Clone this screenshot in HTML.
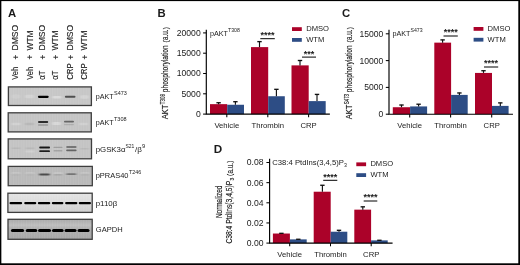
<!DOCTYPE html>
<html><head><meta charset="utf-8"><title>Figure</title>
<style>html,body{margin:0;padding:0;background:#fff;}body{width:520px;height:265px;overflow:hidden;}svg{display:block;will-change:transform;opacity:0.999;font-family:"Liberation Sans",sans-serif;}text{fill:#1a1a1a;}</style></head><body>
<svg width="520" height="265" viewBox="0 0 520 265">
<defs><filter id="b1" x="-20%" y="-100%" width="140%" height="300%"><feGaussianBlur stdDeviation="0.6 0.45"/></filter><filter id="b3" x="-20%" y="-100%" width="140%" height="300%"><feGaussianBlur stdDeviation="0.45 0.4"/></filter><filter id="b2" x="-20%" y="-100%" width="140%" height="300%"><feGaussianBlur stdDeviation="0.9 0.6"/></filter></defs>
<rect x="0" y="0" width="520" height="265" fill="#fff"/>
<text x="8.1" y="16.5" font-size="11.3" font-weight="bold" fill="#000">A</text>
<text x="157.4" y="16.7" font-size="11.3" font-weight="bold" fill="#000">B</text>
<text x="341.9" y="16.8" font-size="11.3" font-weight="bold" fill="#000">C</text>
<text x="213.7" y="152.7" font-size="11.7" font-weight="bold" fill="#000">D</text>
<text transform="translate(18.2,79.8) rotate(-90)" font-size="8.2" stroke="#1a1a1a" stroke-width="0.12"><tspan x="0" textLength="12.9" lengthAdjust="spacingAndGlyphs">Veh</tspan><tspan x="20.2" dy="0.9">+</tspan><tspan x="29.3" dy="-0.9" textLength="25.6" lengthAdjust="spacingAndGlyphs">DMSO</tspan></text>
<text transform="translate(32.5,79.8) rotate(-90)" font-size="8.2" stroke="#1a1a1a" stroke-width="0.12"><tspan x="0" textLength="12.9" lengthAdjust="spacingAndGlyphs">Veh</tspan><tspan x="20.2" dy="0.9">+</tspan><tspan x="29.3" dy="-0.9" textLength="20.1" lengthAdjust="spacingAndGlyphs">WTM</tspan></text>
<text transform="translate(44.9,79.8) rotate(-90)" font-size="8.2" stroke="#1a1a1a" stroke-width="0.12"><tspan x="0" textLength="9.2" lengthAdjust="spacingAndGlyphs">αT</tspan><tspan x="20.2" dy="0.9">+</tspan><tspan x="29.3" dy="-0.9" textLength="25.6" lengthAdjust="spacingAndGlyphs">DMSO</tspan></text>
<text transform="translate(58.4,79.8) rotate(-90)" font-size="8.2" stroke="#1a1a1a" stroke-width="0.12"><tspan x="0" textLength="9.2" lengthAdjust="spacingAndGlyphs">αT</tspan><tspan x="20.2" dy="0.9">+</tspan><tspan x="29.3" dy="-0.9" textLength="20.1" lengthAdjust="spacingAndGlyphs">WTM</tspan></text>
<text transform="translate(72.8,79.8) rotate(-90)" font-size="8.2" stroke="#1a1a1a" stroke-width="0.12"><tspan x="0" textLength="16.6" lengthAdjust="spacingAndGlyphs">CRP</tspan><tspan x="20.2" dy="0.9">+</tspan><tspan x="29.3" dy="-0.9" textLength="25.6" lengthAdjust="spacingAndGlyphs">DMSO</tspan></text>
<text transform="translate(86.7,79.8) rotate(-90)" font-size="8.2" stroke="#1a1a1a" stroke-width="0.12"><tspan x="0" textLength="16.6" lengthAdjust="spacingAndGlyphs">CRP</tspan><tspan x="20.2" dy="0.9">+</tspan><tspan x="29.3" dy="-0.9" textLength="20.1" lengthAdjust="spacingAndGlyphs">WTM</tspan></text>
<defs><linearGradient id="g5" x1="0" y1="0" x2="0" y2="1"><stop offset="0" stop-color="#e4e4e4"/><stop offset="0.45" stop-color="#dcdcdc"/><stop offset="1" stop-color="#cecece"/></linearGradient><linearGradient id="g6" x1="0" y1="0" x2="0" y2="1"><stop offset="0" stop-color="#a9a9a9"/><stop offset="0.3" stop-color="#bdbdbd"/><stop offset="0.45" stop-color="#b0b0b0"/><stop offset="1" stop-color="#a6a6a6"/></linearGradient><linearGradient id="g1" x1="0" y1="0" x2="0" y2="1"><stop offset="0" stop-color="#c4c4c4"/><stop offset="1" stop-color="#c9c9c9"/></linearGradient><pattern id="vs" width="2.6" height="4" patternUnits="userSpaceOnUse"><rect width="1.1" height="4" fill="#fff" opacity="0.07"/></pattern></defs>
<rect x="8.4" y="86.9" width="83.00" height="18.60" fill="#c6c6c6"/>
<rect x="8.4" y="86.9" width="83.00" height="18.60" fill="url(#vs)"/>
<rect x="8.2" y="112.8" width="83.10" height="19.10" fill="#c4c4c4"/>
<rect x="8.2" y="112.8" width="83.10" height="19.10" fill="url(#vs)"/>
<rect x="8.2" y="138.9" width="83.30" height="19.90" fill="#c3c3c3"/>
<rect x="8.2" y="138.9" width="83.30" height="19.90" fill="url(#vs)"/>
<rect x="8.2" y="166.4" width="84.10" height="19.30" fill="#b9b9b9"/>
<rect x="8.2" y="166.4" width="84.10" height="19.30" fill="url(#vs)"/>
<rect x="7.9" y="193.2" width="84.30" height="19.20" fill="url(#g5)"/>
<rect x="7.9" y="193.2" width="84.30" height="19.20" fill="url(#vs)"/>
<rect x="8.0" y="219.3" width="84.20" height="20.00" fill="url(#g6)"/>
<rect x="8.0" y="219.3" width="84.20" height="20.00" fill="url(#vs)"/>
<rect x="37.90" y="95.80" width="10.8" height="2.1" rx="1.05" fill="#000" opacity="1.0" filter="url(#b1)"/>
<rect x="64.90" y="95.85" width="10.6" height="2.0" rx="1.0" fill="#222" opacity="0.72" filter="url(#b1)"/>
<rect x="52.50" y="96.00" width="9" height="2.4" rx="1.2" fill="#fff" opacity="0.35" filter="url(#b2)"/>
<rect x="25.00" y="94.75" width="9" height="3.5" rx="1.75" fill="#fff" opacity="0.22" filter="url(#b2)"/>
<rect x="80.00" y="95.25" width="9" height="3.5" rx="1.75" fill="#fff" opacity="0.22" filter="url(#b2)"/>
<rect x="11.50" y="94.50" width="9" height="4.0" rx="2.0" fill="#fff" opacity="0.12" filter="url(#b2)"/>
<rect x="38.00" y="121.05" width="10.2" height="1.9" rx="0.95" fill="#1a1a1a" opacity="0.9" filter="url(#b1)"/>
<rect x="38.00" y="124.30" width="10.2" height="1.4" rx="0.7" fill="#555" opacity="0.4" filter="url(#b1)"/>
<rect x="64.00" y="120.75" width="10.0" height="1.7" rx="0.85" fill="#333" opacity="0.65" filter="url(#b1)"/>
<rect x="64.00" y="123.90" width="10.0" height="1.4" rx="0.7" fill="#777" opacity="0.3" filter="url(#b1)"/>
<rect x="11.50" y="122.75" width="9" height="2.5" rx="1.25" fill="#fff" opacity="0.22" filter="url(#b2)"/>
<rect x="25.00" y="122.75" width="9" height="2.5" rx="1.25" fill="#999" opacity="0.3" filter="url(#b2)"/>
<rect x="52.00" y="122.00" width="9" height="3.0" rx="1.5" fill="#fff" opacity="0.32" filter="url(#b2)"/>
<rect x="79.00" y="122.75" width="9" height="2.5" rx="1.25" fill="#fff" opacity="0.2" filter="url(#b2)"/>
<rect x="39.20" y="146.60" width="10.8" height="1.8" rx="0.9" fill="#111" opacity="0.95" filter="url(#b1)"/>
<rect x="39.20" y="150.30" width="10.8" height="1.8" rx="0.9" fill="#111" opacity="0.9" filter="url(#b1)"/>
<rect x="66.20" y="146.20" width="10.4" height="1.6" rx="0.8" fill="#333" opacity="0.7" filter="url(#b1)"/>
<rect x="66.20" y="149.60" width="10.4" height="1.6" rx="0.8" fill="#333" opacity="0.65" filter="url(#b1)"/>
<rect x="53.50" y="146.70" width="9" height="1.4" rx="0.7" fill="#666" opacity="0.4" filter="url(#b1)"/>
<rect x="53.50" y="150.10" width="9" height="1.4" rx="0.7" fill="#666" opacity="0.35" filter="url(#b1)"/>
<rect x="11.50" y="147.50" width="9" height="1.6" rx="0.8" fill="#888" opacity="0.2" filter="url(#b2)"/>
<rect x="25.50" y="147.50" width="9" height="1.6" rx="0.8" fill="#888" opacity="0.2" filter="url(#b2)"/>
<rect x="80.00" y="148.00" width="9" height="1.6" rx="0.8" fill="#888" opacity="0.18" filter="url(#b2)"/>
<rect x="25.50" y="150.50" width="9" height="2.0" rx="1.0" fill="#fff" opacity="0.2" filter="url(#b2)"/>
<rect x="11.00" y="172.00" width="10" height="3.2" rx="1.6" fill="#fff" opacity="0.16" filter="url(#b2)"/>
<rect x="25.00" y="172.00" width="10" height="3.2" rx="1.6" fill="#fff" opacity="0.16" filter="url(#b2)"/>
<rect x="53.00" y="172.00" width="10" height="3.2" rx="1.6" fill="#fff" opacity="0.16" filter="url(#b2)"/>
<rect x="80.00" y="172.00" width="10" height="3.2" rx="1.6" fill="#fff" opacity="0.16" filter="url(#b2)"/>
<rect x="39.00" y="173.60" width="10.8" height="2.0" rx="1.0" fill="#222" opacity="0.72" filter="url(#b2)"/>
<rect x="66.30" y="173.30" width="10.0" height="1.8" rx="0.9" fill="#333" opacity="0.5" filter="url(#b2)"/>
<rect x="53.50" y="174.00" width="9" height="1.6" rx="0.8" fill="#555" opacity="0.25" filter="url(#b2)"/>
<rect x="11.50" y="173.80" width="9" height="1.6" rx="0.8" fill="#666" opacity="0.15" filter="url(#b2)"/>
<rect x="25.50" y="173.80" width="9" height="1.6" rx="0.8" fill="#666" opacity="0.15" filter="url(#b2)"/>
<rect x="80.50" y="173.80" width="9" height="1.6" rx="0.8" fill="#666" opacity="0.18" filter="url(#b2)"/>
<rect x="9.50" y="201.90" width="12.699999999999998" height="2.4" rx="1.2" fill="#000" opacity="1.0" filter="url(#b3)"/>
<rect x="24.20" y="201.90" width="12.1" height="2.4" rx="1.2" fill="#000" opacity="1.0" filter="url(#b3)"/>
<rect x="37.80" y="201.90" width="12.499999999999998" height="2.4" rx="1.2" fill="#000" opacity="1.0" filter="url(#b3)"/>
<rect x="51.80" y="201.90" width="11.6" height="2.4" rx="1.2" fill="#000" opacity="1.0" filter="url(#b3)"/>
<rect x="65.10" y="201.90" width="12.299999999999988" height="2.4" rx="1.2" fill="#000" opacity="1.0" filter="url(#b3)"/>
<rect x="78.70" y="201.90" width="12.300000000000002" height="2.4" rx="1.2" fill="#000" opacity="1.0" filter="url(#b3)"/>
<rect x="10.95" y="228.95" width="13.200000000000001" height="3.1" rx="1.55" fill="#000" opacity="1.0" filter="url(#b3)"/>
<rect x="25.75" y="228.95" width="11.500000000000002" height="3.1" rx="1.55" fill="#000" opacity="1.0" filter="url(#b3)"/>
<rect x="38.05" y="228.95" width="12.999999999999998" height="3.1" rx="1.55" fill="#000" opacity="1.0" filter="url(#b3)"/>
<rect x="51.95" y="228.95" width="11.700000000000001" height="3.1" rx="1.55" fill="#000" opacity="1.0" filter="url(#b3)"/>
<rect x="64.55" y="228.95" width="12.000000000000005" height="3.1" rx="1.55" fill="#000" opacity="1.0" filter="url(#b3)"/>
<rect x="77.55" y="228.95" width="12.000000000000005" height="3.1" rx="1.55" fill="#000" opacity="1.0" filter="url(#b3)"/>
<rect x="8.4" y="86.9" width="83.00" height="18.60" fill="none" stroke="#3e3e3e" stroke-width="1.3"/>
<rect x="8.2" y="112.8" width="83.10" height="19.10" fill="none" stroke="#3e3e3e" stroke-width="1.3"/>
<rect x="8.2" y="138.9" width="83.30" height="19.90" fill="none" stroke="#3e3e3e" stroke-width="1.3"/>
<rect x="8.2" y="166.4" width="84.10" height="19.30" fill="none" stroke="#3e3e3e" stroke-width="1.3"/>
<rect x="7.9" y="193.2" width="84.30" height="19.20" fill="none" stroke="#3e3e3e" stroke-width="1.3"/>
<rect x="8.0" y="219.3" width="84.20" height="20.00" fill="none" stroke="#3e3e3e" stroke-width="1.3"/>
<text x="95.8" y="98.6" font-size="7.5" textLength="17.9" lengthAdjust="spacingAndGlyphs">pAKT</text>
<text x="114.0" y="95.1" font-size="5.5" textLength="12.8" lengthAdjust="spacingAndGlyphs">S473</text>
<text x="95.8" y="124.8" font-size="7.5" textLength="17.9" lengthAdjust="spacingAndGlyphs">pAKT</text>
<text x="114.0" y="121.3" font-size="5.5" textLength="12.6" lengthAdjust="spacingAndGlyphs">T308</text>
<text x="95.7" y="151.6" font-size="7.5" textLength="29.8" lengthAdjust="spacingAndGlyphs">pGSK3α</text>
<text x="125.5" y="148.1" font-size="5.5" textLength="8.9" lengthAdjust="spacingAndGlyphs">S21</text>
<text x="134.9" y="151.6" font-size="7.5" textLength="6.9" lengthAdjust="spacingAndGlyphs">/β</text>
<text x="142.0" y="148.1" font-size="5.5" textLength="3.2" lengthAdjust="spacingAndGlyphs">9</text>
<text x="95.7" y="177.7" font-size="7.5" textLength="32.8" lengthAdjust="spacingAndGlyphs">pPRAS40</text>
<text x="129.0" y="174.2" font-size="5.5" textLength="12.2" lengthAdjust="spacingAndGlyphs">T246</text>
<text x="95.7" y="205.5" font-size="7.5" textLength="21.6" lengthAdjust="spacingAndGlyphs">p110β</text>
<text x="95.8" y="232.1" font-size="7.5" textLength="26.8" lengthAdjust="spacingAndGlyphs">GAPDH</text>
<rect x="210" y="104.15" width="17.2" height="9.95" fill="#ab0229"/>
<rect x="227.2" y="104.76" width="16.8" height="9.34" fill="#2d4d85"/>
<rect x="251" y="47.11" width="17.2" height="66.99" fill="#ab0229"/>
<rect x="268.2" y="96.24" width="16.6" height="17.86" fill="#2d4d85"/>
<rect x="291.5" y="65.38" width="17.2" height="48.72" fill="#ab0229"/>
<rect x="308.7" y="101.11" width="17.0" height="12.99" fill="#2d4d85"/>
<path d="M218.6 104.15V102.53" stroke="#111" stroke-width="1.15" fill="none"/><path d="M216.4 102.73H220.79999999999998" stroke="#111" stroke-width="1.35" fill="none"/>
<path d="M235.4 104.76V101.51" stroke="#111" stroke-width="1.15" fill="none"/><path d="M233.20000000000002 101.71H237.6" stroke="#111" stroke-width="1.35" fill="none"/>
<path d="M259.5 47.11V41.43" stroke="#111" stroke-width="1.15" fill="none"/><path d="M257.3 41.63H261.7" stroke="#111" stroke-width="1.35" fill="none"/>
<path d="M276.4 96.24V89.13" stroke="#111" stroke-width="1.15" fill="none"/><path d="M274.2 89.33H278.59999999999997" stroke="#111" stroke-width="1.35" fill="none"/>
<path d="M300.0 65.38V60.30" stroke="#111" stroke-width="1.15" fill="none"/><path d="M297.8 60.50H302.2" stroke="#111" stroke-width="1.35" fill="none"/>
<path d="M317.0 101.11V94.21" stroke="#111" stroke-width="1.15" fill="none"/><path d="M314.8 94.41H319.2" stroke="#111" stroke-width="1.35" fill="none"/>
<path d="M206.3 30.2V114.1H329.3" stroke="#000" stroke-width="1.15" fill="none" stroke-linecap="square"/>
<path d="M203.10000000000002 114.10H206.3" stroke="#000" stroke-width="1.05"/>
<text x="200.70000000000002" y="117.00" font-size="8.2" text-anchor="end" textLength="4.79" lengthAdjust="spacingAndGlyphs">0</text>
<path d="M203.10000000000002 93.80H206.3" stroke="#000" stroke-width="1.05"/>
<text x="200.70000000000002" y="96.70" font-size="8.2" text-anchor="end" textLength="19.15" lengthAdjust="spacingAndGlyphs">5000</text>
<path d="M203.10000000000002 73.50H206.3" stroke="#000" stroke-width="1.05"/>
<text x="200.70000000000002" y="76.40" font-size="8.2" text-anchor="end" textLength="23.94" lengthAdjust="spacingAndGlyphs">10000</text>
<path d="M203.10000000000002 53.20H206.3" stroke="#000" stroke-width="1.05"/>
<text x="200.70000000000002" y="56.10" font-size="8.2" text-anchor="end" textLength="23.94" lengthAdjust="spacingAndGlyphs">15000</text>
<path d="M203.10000000000002 32.90H206.3" stroke="#000" stroke-width="1.05"/>
<text x="200.70000000000002" y="35.80" font-size="8.2" text-anchor="end" textLength="23.94" lengthAdjust="spacingAndGlyphs">20000</text>
<path d="M226.8 114.1V117.3" stroke="#000" stroke-width="1.05"/>
<text x="226.8" y="127.5" font-size="7.7" text-anchor="middle">Vehicle</text>
<path d="M267.8 114.1V117.3" stroke="#000" stroke-width="1.05"/>
<text x="267.8" y="127.5" font-size="7.7" text-anchor="middle">Thrombin</text>
<path d="M308.6 114.1V117.3" stroke="#000" stroke-width="1.05"/>
<text x="308.6" y="127.5" font-size="7.7" text-anchor="middle">CRP</text>
<text x="210.0" y="36.2" font-size="7.2">pAKT<tspan font-size="5.2" dy="-3.8">T308</tspan></text>
<rect x="292.0" y="27.2" width="9.8" height="3.8" fill="#ab0229"/>
<text x="306.2" y="31.2" font-size="7.6">DMSO</text>
<rect x="292.0" y="38.0" width="9.8" height="3.8" fill="#2d4d85"/>
<text x="306.2" y="41.9" font-size="7.6">WTM</text>
<path d="M260.3 38.7H274.8" stroke="#000" stroke-width="1"/>
<text x="267.55" y="38.0" font-size="9" font-weight="bold" text-anchor="middle" fill="#000">****</text>
<path d="M302.0 57.1H316.0" stroke="#000" stroke-width="1"/>
<text x="309.0" y="56.9" font-size="9" font-weight="bold" text-anchor="middle" fill="#000">***</text>
<text transform="translate(168.2,119.3) rotate(-90) scale(0.7927,1)" font-size="9.6" stroke="#1a1a1a" stroke-width="0.15">AKT</text><text transform="translate(164.89999999999998,104.2) rotate(-90) scale(0.6047,1)" font-size="7.4" stroke="#1a1a1a" stroke-width="0.15">T308</text><text transform="translate(168.2,92.19999999999999) rotate(-90) scale(0.7236,1)" font-size="9.2" stroke="#1a1a1a" stroke-width="0.15">phosphorylation</text><text transform="translate(167.79999999999998,42.5) rotate(-90) scale(0.8470,1)" font-size="7.8" stroke="#1a1a1a" stroke-width="0.15">(</text><text transform="translate(168.2,40.099999999999994) rotate(-90) scale(0.6908,1)" font-size="9.2" stroke="#1a1a1a" stroke-width="0.15">a.u.</text><text transform="translate(167.79999999999998,29.299999999999997) rotate(-90) scale(0.8470,1)" font-size="7.8" stroke="#1a1a1a" stroke-width="0.15">)</text>
<rect x="392.8" y="107.23" width="17.3" height="6.97" fill="#ab0229"/>
<rect x="410.1" y="106.43" width="17.0" height="7.77" fill="#2d4d85"/>
<rect x="434.3" y="42.64" width="16.8" height="71.56" fill="#ab0229"/>
<rect x="451.1" y="94.90" width="16.6" height="19.30" fill="#2d4d85"/>
<rect x="475.0" y="72.93" width="17.0" height="41.27" fill="#ab0229"/>
<rect x="492.0" y="105.89" width="16.6" height="8.31" fill="#2d4d85"/>
<path d="M401.5 107.23V104.82" stroke="#111" stroke-width="1.15" fill="none"/><path d="M399.3 105.02H403.7" stroke="#111" stroke-width="1.35" fill="none"/>
<path d="M418.6 106.43V104.02" stroke="#111" stroke-width="1.15" fill="none"/><path d="M416.40000000000003 104.22H420.8" stroke="#111" stroke-width="1.35" fill="none"/>
<path d="M442.6 42.64V39.70" stroke="#111" stroke-width="1.15" fill="none"/><path d="M440.40000000000003 39.90H444.8" stroke="#111" stroke-width="1.35" fill="none"/>
<path d="M459.4 94.90V92.76" stroke="#111" stroke-width="1.15" fill="none"/><path d="M457.2 92.96H461.59999999999997" stroke="#111" stroke-width="1.35" fill="none"/>
<path d="M483.5 72.93V70.52" stroke="#111" stroke-width="1.15" fill="none"/><path d="M481.3 70.72H485.7" stroke="#111" stroke-width="1.35" fill="none"/>
<path d="M500.3 105.89V102.68" stroke="#111" stroke-width="1.15" fill="none"/><path d="M498.1 102.88H502.5" stroke="#111" stroke-width="1.35" fill="none"/>
<path d="M389.0 30.2V114.2H512.4" stroke="#000" stroke-width="1.15" fill="none" stroke-linecap="square"/>
<path d="M385.8 114.20H389.0" stroke="#000" stroke-width="1.05"/>
<text x="383.4" y="117.10" font-size="8.2" text-anchor="end" textLength="4.79" lengthAdjust="spacingAndGlyphs">0</text>
<path d="M385.8 87.40H389.0" stroke="#000" stroke-width="1.05"/>
<text x="383.4" y="90.30" font-size="8.2" text-anchor="end" textLength="19.15" lengthAdjust="spacingAndGlyphs">5000</text>
<path d="M385.8 60.60H389.0" stroke="#000" stroke-width="1.05"/>
<text x="383.4" y="63.50" font-size="8.2" text-anchor="end" textLength="23.94" lengthAdjust="spacingAndGlyphs">10000</text>
<path d="M385.8 33.80H389.0" stroke="#000" stroke-width="1.05"/>
<text x="383.4" y="36.70" font-size="8.2" text-anchor="end" textLength="23.94" lengthAdjust="spacingAndGlyphs">15000</text>
<path d="M409.7 114.2V117.4" stroke="#000" stroke-width="1.05"/>
<text x="409.7" y="127.5" font-size="7.7" text-anchor="middle">Vehicle</text>
<path d="M450.6 114.2V117.4" stroke="#000" stroke-width="1.05"/>
<text x="450.6" y="127.5" font-size="7.7" text-anchor="middle">Thrombin</text>
<path d="M491.7 114.2V117.4" stroke="#000" stroke-width="1.05"/>
<text x="491.7" y="127.5" font-size="7.7" text-anchor="middle">CRP</text>
<text x="392.5" y="36.2" font-size="7.2">pAKT<tspan font-size="5.2" dy="-4.0">S473</tspan></text>
<rect x="473.6" y="27.0" width="9.8" height="3.8" fill="#ab0229"/>
<text x="487.6" y="31.0" font-size="7.6">DMSO</text>
<rect x="473.6" y="37.8" width="9.8" height="3.8" fill="#2d4d85"/>
<text x="487.6" y="41.7" font-size="7.6">WTM</text>
<path d="M443.5 36.0H457.8" stroke="#000" stroke-width="1"/>
<text x="450.65" y="35.1" font-size="9" font-weight="bold" text-anchor="middle" fill="#000">****</text>
<path d="M484.0 67.0H498.2" stroke="#000" stroke-width="1"/>
<text x="491.1" y="66.2" font-size="9" font-weight="bold" text-anchor="middle" fill="#000">****</text>
<text transform="translate(352.3,119.3) rotate(-90) scale(0.7927,1)" font-size="9.6" stroke="#1a1a1a" stroke-width="0.15">AKT</text><text transform="translate(349.0,104.2) rotate(-90) scale(0.5902,1)" font-size="7.4" stroke="#1a1a1a" stroke-width="0.15">S473</text><text transform="translate(352.3,92.19999999999999) rotate(-90) scale(0.7236,1)" font-size="9.2" stroke="#1a1a1a" stroke-width="0.15">phosphorylation</text><text transform="translate(351.90000000000003,42.5) rotate(-90) scale(0.8470,1)" font-size="7.8" stroke="#1a1a1a" stroke-width="0.15">(</text><text transform="translate(352.3,40.099999999999994) rotate(-90) scale(0.6908,1)" font-size="9.2" stroke="#1a1a1a" stroke-width="0.15">a.u.</text><text transform="translate(351.90000000000003,29.299999999999997) rotate(-90) scale(0.8470,1)" font-size="7.8" stroke="#1a1a1a" stroke-width="0.15">)</text>
<rect x="272.9" y="233.53" width="17.0" height="9.57" fill="#ab0229"/>
<rect x="289.9" y="239.37" width="16.8" height="3.73" fill="#2d4d85"/>
<rect x="313.7" y="191.72" width="17.0" height="51.38" fill="#ab0229"/>
<rect x="330.7" y="231.72" width="16.6" height="11.38" fill="#2d4d85"/>
<rect x="354.3" y="209.65" width="16.8" height="33.45" fill="#ab0229"/>
<rect x="371.1" y="240.38" width="16.6" height="2.72" fill="#2d4d85"/>
<path d="M281.4 233.53V233.13" stroke="#111" stroke-width="1.15" fill="none"/><path d="M279.2 233.33H283.59999999999997" stroke="#111" stroke-width="1.35" fill="none"/>
<path d="M298.3 239.37V239.07" stroke="#111" stroke-width="1.15" fill="none"/><path d="M296.1 239.27H300.5" stroke="#111" stroke-width="1.35" fill="none"/>
<path d="M322.4 191.72V185.07" stroke="#111" stroke-width="1.15" fill="none"/><path d="M320.2 185.27H324.59999999999997" stroke="#111" stroke-width="1.35" fill="none"/>
<path d="M339.0 231.72V230.10" stroke="#111" stroke-width="1.15" fill="none"/><path d="M336.8 230.30H341.2" stroke="#111" stroke-width="1.35" fill="none"/>
<path d="M362.8 209.65V206.63" stroke="#111" stroke-width="1.15" fill="none"/><path d="M360.6 206.83H365.0" stroke="#111" stroke-width="1.35" fill="none"/>
<path d="M379.4 240.38V240.08" stroke="#111" stroke-width="1.15" fill="none"/><path d="M377.2 240.28H381.59999999999997" stroke="#111" stroke-width="1.35" fill="none"/>
<path d="M269.6 159.4V243.1H392.0" stroke="#000" stroke-width="1.15" fill="none" stroke-linecap="square"/>
<path d="M266.40000000000003 243.10H269.6" stroke="#000" stroke-width="1.05"/>
<text x="263.5" y="246.00" font-size="8.2" text-anchor="end" textLength="16.76" lengthAdjust="spacingAndGlyphs">0.00</text>
<path d="M266.40000000000003 222.95H269.6" stroke="#000" stroke-width="1.05"/>
<text x="263.5" y="225.85" font-size="8.2" text-anchor="end" textLength="16.76" lengthAdjust="spacingAndGlyphs">0.02</text>
<path d="M266.40000000000003 202.80H269.6" stroke="#000" stroke-width="1.05"/>
<text x="263.5" y="205.70" font-size="8.2" text-anchor="end" textLength="16.76" lengthAdjust="spacingAndGlyphs">0.04</text>
<path d="M266.40000000000003 182.65H269.6" stroke="#000" stroke-width="1.05"/>
<text x="263.5" y="185.55" font-size="8.2" text-anchor="end" textLength="16.76" lengthAdjust="spacingAndGlyphs">0.06</text>
<path d="M266.40000000000003 162.50H269.6" stroke="#000" stroke-width="1.05"/>
<text x="263.5" y="165.40" font-size="8.2" text-anchor="end" textLength="16.76" lengthAdjust="spacingAndGlyphs">0.08</text>
<path d="M289.7 243.1V246.29999999999998" stroke="#000" stroke-width="1.05"/>
<text x="289.7" y="256.9" font-size="7.7" text-anchor="middle">Vehicle</text>
<path d="M330.5 243.1V246.29999999999998" stroke="#000" stroke-width="1.05"/>
<text x="330.5" y="256.9" font-size="7.7" text-anchor="middle">Thrombin</text>
<path d="M371.2 243.1V246.29999999999998" stroke="#000" stroke-width="1.05"/>
<text x="371.2" y="256.9" font-size="7.7" text-anchor="middle">CRP</text>
<text x="272.3" y="165.4" font-size="7.68">C38:4 PtdIns(3,4,5)P<tspan font-size="5.2" dy="1.6">3</tspan></text>
<rect x="356.3" y="162.4" width="9.8" height="3.8" fill="#ab0229"/>
<text x="370.4" y="166.4" font-size="7.6">DMSO</text>
<rect x="356.3" y="173.20000000000002" width="9.8" height="3.8" fill="#2d4d85"/>
<text x="370.4" y="177.1" font-size="7.6">WTM</text>
<path d="M323.2 180.3H337.3" stroke="#000" stroke-width="1"/>
<text x="330.25" y="179.60000000000002" font-size="9" font-weight="bold" text-anchor="middle" fill="#000">****</text>
<path d="M363.7 201.0H377.3" stroke="#000" stroke-width="1"/>
<text x="370.5" y="200.3" font-size="9" font-weight="bold" text-anchor="middle" fill="#000">****</text>
<text transform="translate(221.8,218.0) rotate(-90) scale(0.6942,1)" font-size="9.2" stroke="#1a1a1a" stroke-width="0.15">Normalized</text><text transform="translate(232.3,243.6) rotate(-90) scale(0.7333,1)" font-size="9.2" stroke="#1a1a1a" stroke-width="0.15">C38:4 PtdIns(3,4,5)P</text><text transform="translate(234.2,180.39999999999998) rotate(-90) scale(0.8120,1)" font-size="6.2" stroke="#1a1a1a" stroke-width="0.15">3</text><text transform="translate(232.2,175.89999999999998) rotate(-90) scale(0.8470,1)" font-size="7.8" stroke="#1a1a1a" stroke-width="0.15">(</text><text transform="translate(232.6,173.5) rotate(-90) scale(0.6908,1)" font-size="9.2" stroke="#1a1a1a" stroke-width="0.15">a.u.</text><text transform="translate(232.2,162.7) rotate(-90) scale(0.8470,1)" font-size="7.8" stroke="#1a1a1a" stroke-width="0.15">)</text>
<rect x="0" y="0" width="520" height="1.1" fill="#000"/>
<rect x="0" y="0" width="1.35" height="265" fill="#000"/>
<rect x="518.3" y="0" width="1.7" height="265" fill="#000"/>
<rect x="0" y="263.3" width="520" height="1.7" fill="#000"/>
</svg></body></html>
